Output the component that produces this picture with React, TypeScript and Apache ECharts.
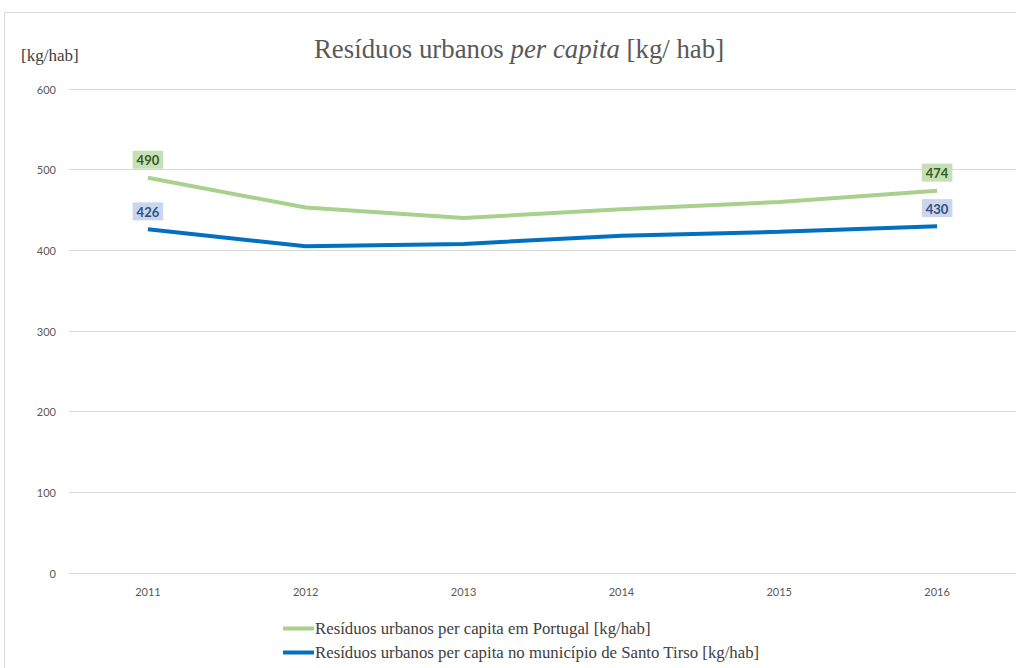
import React, { useEffect, useRef } from "react";
import * as echarts from "echarts";

const years = ["2011", "2012", "2013", "2014", "2015", "2016"];
const portugal = [490, 453, 440, 451, 460, 474];
const santoTirso = [426, 405, 408, 418, 423, 430];
const seriesNames = [
  "Resíduos urbanos per capita em Portugal [kg/hab]",
  "Resíduos urbanos per capita no município de Santo Tirso [kg/hab]",
];

function withEndLabels(values: number[], bg: string, color: string) {
  return values.map((v, i) => {
    const isEnd = i === 0 || i === values.length - 1;
    return {
      value: v,
      label: {
        show: isEnd,
        position: "top",
        distance: 9,
        backgroundColor: bg,
        color,
        fontWeight: "bold",
        fontFamily: "Lato, 'Open Sans', sans-serif",
        fontSize: 13,
        padding: [3, 4, 2, 4],
      },
    };
  });
}

export default function App() {
  const ref = useRef<HTMLDivElement>(null);
  useEffect(() => {
    if (!ref.current) return;
    const chart = echarts.init(ref.current, undefined, { renderer: "svg" });
    chart.setOption({
      animation: false,
      backgroundColor: "#ffffff",
      title: {
        left: 309,
        top: 30,
        text: "{a|Resíduos urbanos }{b|per capita}{a| [kg/ hab]}",
        textStyle: {
          fontWeight: "normal",
          rich: {
            a: { fontFamily: "'Liberation Serif', serif", fontSize: 26.8, color: "#595959", fontWeight: "normal" },
            b: { fontFamily: "'Liberation Serif', serif", fontSize: 26.8, color: "#595959", fontStyle: "italic", fontWeight: "normal" },
          },
        },
      },
      graphic: [
        {
          type: "rect",
          shape: { x: 4.5, y: 12.5, width: 1200, height: 1000 },
          style: { fill: "none", stroke: "#d9d9d9", lineWidth: 1 },
          silent: true,
        },
        {
          type: "text",
          x: 21,
          y: 47,
          style: {
            text: "[kg/hab]",
            font: "17px 'Liberation Serif', serif",
            fill: "#404040",
          },
        },
      ],
      legend: {
        orient: "vertical",
        left: 278,
        top: 615,
        itemWidth: 31,
        itemHeight: 4,
        itemGap: 7,
        icon: "rect",
        textStyle: {
          fontFamily: "'Liberation Serif', serif",
          fontSize: 16.8,
          color: "#404040",
          padding: [0, 0, 0, -4],
        },
        data: seriesNames,
      },
      grid: { left: 69, right: -1, top: 89, bottom: 95, containLabel: false },
      xAxis: {
        type: "category",
        data: years,
        boundaryGap: true,
        axisLine: { lineStyle: { color: "#d9d9d9" } },
        axisTick: { show: false },
        axisLabel: {
          color: "#595959",
          fontFamily: "Lato, 'Open Sans', sans-serif",
          fontSize: 11,
          margin: 13,
        },
      },
      yAxis: {
        type: "value",
        min: 0,
        max: 600,
        interval: 100,
        axisLine: { show: false },
        axisTick: { show: false },
        splitLine: { lineStyle: { color: "#d9d9d9" } },
        axisLabel: {
          color: "#595959",
          fontFamily: "Lato, 'Open Sans', sans-serif",
          fontSize: 11,
          margin: 13,
        },
      },
      series: [
        {
          name: seriesNames[0],
          type: "line",
          data: withEndLabels(portugal, "#c5e0b4", "#3a5a22"),
          showSymbol: true,
          symbol: "circle",
          symbolSize: 0,
          lineStyle: { color: "#a9d18e", width: 4 },
          itemStyle: { color: "#a9d18e" },
        },
        {
          name: seriesNames[1],
          type: "line",
          data: withEndLabels(santoTirso, "#c9d6ee", "#2f5080"),
          showSymbol: true,
          symbol: "circle",
          symbolSize: 0,
          lineStyle: { color: "#0070c0", width: 4 },
          itemStyle: { color: "#0070c0" },
        },
      ],
    });
    return () => chart.dispose();
  }, []);
  return (
    <div
      ref={ref}
      style={{ position: "fixed", left: 0, top: 0, width: 1016, height: 668 }}
    />
  );
}
